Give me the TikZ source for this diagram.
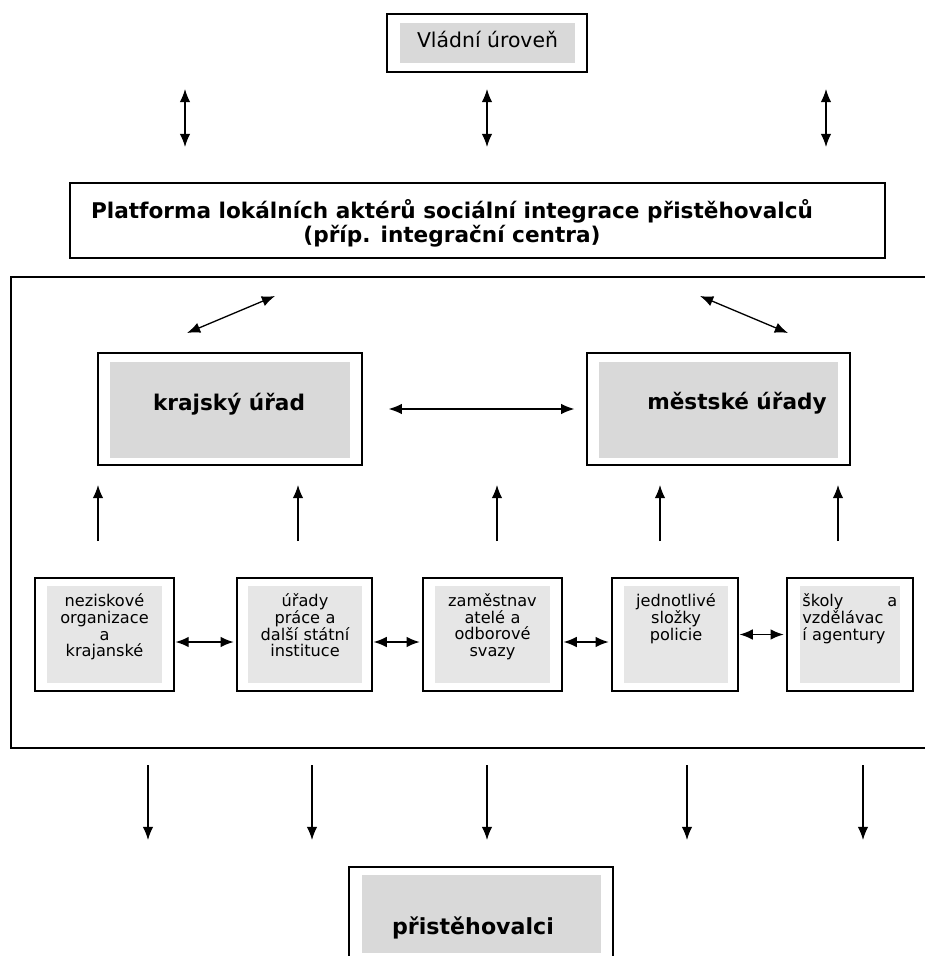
\documentclass[tikz,border=0pt]{standalone}
\usepackage{fontspec}
\setmainfont{DejaVu Sans}
\usetikzlibrary{positioning,arrows.meta}
\definecolor{boxgray}{HTML}{D9D9D9}
\definecolor{palegray}{HTML}{E6E6E6}

\begin{document}
\begin{tikzpicture}[x=0.02cm, y=-0.02cm,
						outerbox/.style={draw=black, line width=0.8pt, inner sep=0pt},
						graybox/.style={fill=boxgray, inner sep=0pt},
						palebox/.style={fill=palegray, inner sep=0pt},
						bigtext/.style={font=\fontsize{12.3}{14}\selectfont\bfseries, inner sep=0pt},
						smalltext/.style={font=\fontsize{9.2}{9.6}\selectfont, align=center, anchor=north, inner sep=0pt},
						link/.style={line width=0.75pt, >={Latex[length=7.5pt,width=6pt]}},
						]
						\useasboundingbox (0,0) rectangle (925,956);
						%Frame
						\draw[line width=0.8pt] (940,277) -- (11,277) -- (11,748) -- (940,748);
						%Nodes
						\node[outerbox, minimum width=4cm, minimum height=1.16cm]      (vlada)      at (487,43)      {};
						\node[graybox, minimum width=3.5cm, minimum height=0.8cm]      (vladaIn)    at (487.5,43)    {};
						\node[font=\fontsize{11.6}{13}\selectfont, inner sep=0pt]     (vladaText)  at (487.5,39)    {Vládní úroveň};
						
						\node[outerbox, minimum width=16.3cm, minimum height=1.5cm]    (platforma)  at (477.5,220.5) {};
						\node[font=\fontsize{12.3}{13.8}\selectfont\bfseries, align=center, inner sep=0pt]
						                                                               (platText)   at (452,223)     {Platforma lokálních aktérů sociální integrace přistěhovalců\\(příp. integrační centra)};
						
						\node[outerbox, minimum width=5.28cm, minimum height=2.24cm]   (kraj)       at (230,409)     {};
						\node[graybox, minimum width=4.8cm, minimum height=1.92cm]     (krajIn)     at (230,410)     {};
						\node[bigtext]                                                 (krajText)   at (229,404)     {krajský úřad};
						
						\node[outerbox, minimum width=5.26cm, minimum height=2.24cm]   (mesto)      at (718.5,409)   {};
						\node[graybox, minimum width=4.78cm, minimum height=1.92cm]    (mestoIn)    at (718.5,410)   {};
						\node[bigtext]                                                 (mestoText)  at (737,403)     {městské úřady};
						
						\node[outerbox, minimum width=2.78cm, minimum height=2.26cm]   (b1)         at (104.5,634.5) {};
						\node[palebox, minimum width=2.3cm, minimum height=1.94cm]     (b1In)       at (104.5,634.5) {};
						\node[smalltext, text width=2.3cm]                             (b1Text)     at (104.5,593)   {neziskové\\organizace\\a\\krajanské};
						
						\node[outerbox, minimum width=2.7cm, minimum height=2.26cm]    (b2)         at (304.5,634.5) {};
						\node[palebox, minimum width=2.28cm, minimum height=1.94cm]    (b2In)       at (305,634.5)   {};
						\node[smalltext, text width=2.28cm]                            (b2Text)     at (305,593)     {úřady\\práce a\\další státní\\instituce};
						
						\node[outerbox, minimum width=2.78cm, minimum height=2.26cm]   (b3)         at (492.5,634.5) {};
						\node[palebox, minimum width=2.3cm, minimum height=1.94cm]     (b3In)       at (492.5,634.5) {};
						\node[smalltext, text width=2.3cm]                             (b3Text)     at (492.5,593)   {zaměstnav\\atelé a\\odborové\\svazy};
						
						\node[outerbox, minimum width=2.52cm, minimum height=2.26cm]   (b4)         at (675,634.5)   {};
						\node[palebox, minimum width=2.08cm, minimum height=1.94cm]    (b4In)       at (676,634.5)   {};
						\node[smalltext, text width=2.08cm]                            (b4Text)     at (676,593)     {jednotlivé\\složky\\policie};
						
						\node[outerbox, minimum width=2.52cm, minimum height=2.26cm]   (b5)         at (850,634.5)   {};
						\node[palebox, minimum width=2.0cm, minimum height=1.94cm]     (b5In)       at (850,634.5)   {};
						\node[smalltext, text width=1.9cm, align=left, anchor=north west]
						                                                               (b5Text)     at (802,593)     {školy\hfill a\\vzdělávac\\í agentury};
						
						\node[outerbox, minimum width=5.28cm, minimum height=2.16cm]   (migranti)   at (481,921)     {};
						\node[graybox, minimum width=4.78cm, minimum height=1.56cm]    (migrantiIn) at (481.5,914)   {};
						\node[bigtext, font=\fontsize{12.6}{14}\selectfont\bfseries]   (migrText)   at (473,928)     {přistěhovalci};
						
						%Arrow ends
						\coordinate (t1a) at (185,89);   \coordinate (t1b) at (185,147);
						\coordinate (t2a) at (487,89);   \coordinate (t2b) at (487,147);
						\coordinate (t3a) at (826,89);   \coordinate (t3b) at (826,147);
						\coordinate (d1a) at (187,333);  \coordinate (d1b) at (275,296);
						\coordinate (d2a) at (700,296);  \coordinate (d2b) at (788,333);
						\coordinate (u1a) at (98,541);   \coordinate (u1b) at (98,485);
						\coordinate (u2a) at (298,541);  \coordinate (u2b) at (298,485);
						\coordinate (u3a) at (497,541);  \coordinate (u3b) at (497,485);
						\coordinate (u4a) at (660,541);  \coordinate (u4b) at (660,485);
						\coordinate (u5a) at (838,541);  \coordinate (u5b) at (838,485);
						\coordinate (s1a) at (148,765);  \coordinate (s1b) at (148,840);
						\coordinate (s2a) at (312,765);  \coordinate (s2b) at (312,840);
						\coordinate (s3a) at (487,765);  \coordinate (s3b) at (487,840);
						\coordinate (s4a) at (687,765);  \coordinate (s4b) at (687,840);
						\coordinate (s5a) at (863,765);  \coordinate (s5b) at (863,840);
						
						%Lines
						\draw[link,<->] (t1a) -- (t1b);
						\draw[link,<->] (t2a) -- (t2b);
						\draw[link,<->] (t3a) -- (t3b);
						\draw[link,<->] (d1a) -- (d1b);
						\draw[link,<->] (d2a) -- (d2b);
						\draw[link,<->] ([xshift=0.52cm]kraj.east) -- ([xshift=-0.24cm]mesto.west);
						\draw[link,->] (u1a) -- (u1b);
						\draw[link,->] (u2a) -- (u2b);
						\draw[link,->] (u3a) -- (u3b);
						\draw[link,->] (u4a) -- (u4b);
						\draw[link,->] (u5a) -- (u5b);
						\draw[link,<->,shorten <=0.5pt,shorten >=1.5pt] ([yshift=-0.15cm]b1.east) -- ([yshift=-0.15cm]b2.west);
						\draw[link,<->,shorten <=0.5pt,shorten >=1.5pt] ([yshift=-0.15cm]b2.east) -- ([yshift=-0.15cm]b3.west);
						\draw[link,<->,shorten <=0.5pt,shorten >=1.5pt] ([yshift=-0.15cm]b3.east) -- ([yshift=-0.15cm]b4.west);
						\draw[link,<->,shorten <=0.5pt,shorten >=1.5pt] (b4.east) -- (b5.west);
						\draw[link,->] (s1a) -- (s1b);
						\draw[link,->] (s2a) -- (s2b);
						\draw[link,->] (s3a) -- (s3b);
						\draw[link,->] (s4a) -- (s4b);
						\draw[link,->] (s5a) -- (s5b);
					\end{tikzpicture}
\end{document}
